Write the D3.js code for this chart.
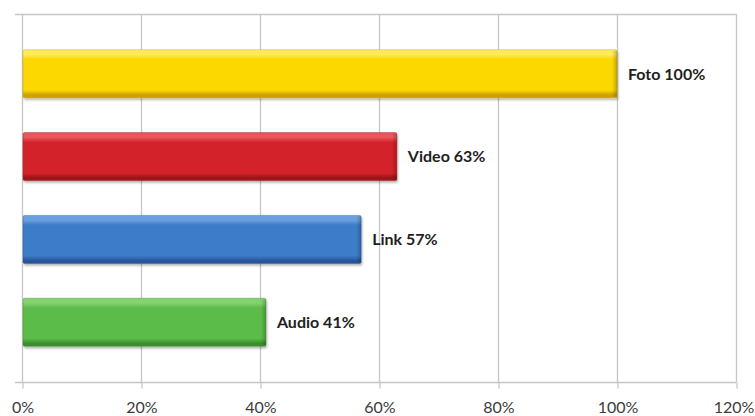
<!DOCTYPE html>
<html>
<head>
<meta charset="utf-8">
<script src="https://cdn.jsdelivr.net/npm/d3@7"></script>
<style>
  html, body { margin: 0; padding: 0; background: #ffffff; }
  svg { display: block; }
</style>
</head>
<body>
<svg id="chart" width="755" height="416"></svg>
<script>
// Share of posts by content type
const categories = ["Foto", "Video", "Link", "Audio"];
const values = [100, 63, 57, 41];
const tickValues = [0, 20, 40, 60, 80, 100, 120];
const tickLabels = ["0%", "20%", "40%", "60%", "80%", "100%", "120%"];

// Bar shades: highlight, main, shadow
const barColors = [
  { light: "#FFEB5C", main: "#FCD700", dark: "#C9A200" },
  { light: "#E9585C", main: "#D4242B", dark: "#9A161B" },
  { light: "#6AA0DE", main: "#3D7BC8", dark: "#28579A" },
  { light: "#85D270", main: "#5BBC49", dark: "#3A8E2F" }
];

const svg = d3.select("#chart");
const plot = { left: 22, right: 736, top: 14, bottom: 382 };

const x = d3.scaleLinear().domain([0, 120]).range([plot.left, plot.right]);
const y = d3.scaleBand()
  .domain(categories)
  .range([plot.top, plot.bottom])
  .paddingInner(0.42)
  .paddingOuter(0.432);

const gridColor = "#c6c6c6";

// Gradients for the bevelled bars
const defs = svg.append("defs");
barColors.forEach((c, i) => {
  const g = defs.append("linearGradient")
    .attr("id", "bar-grad-" + i)
    .attr("x1", 0).attr("y1", 0).attr("x2", 0).attr("y2", 1);
  [[0, c.light], [0.1, c.light], [0.2, c.main], [0.84, c.main], [0.94, c.dark], [1, c.dark]]
    .forEach(([o, col]) => g.append("stop").attr("offset", o).attr("stop-color", col));
});
const endGrad = defs.append("linearGradient")
  .attr("id", "bar-end").attr("x1", 0).attr("y1", 0).attr("x2", 1).attr("y2", 0);
endGrad.append("stop").attr("offset", 0).attr("stop-color", "#000").attr("stop-opacity", 0);
endGrad.append("stop").attr("offset", 1).attr("stop-color", "#000").attr("stop-opacity", 0.22);

const shadow = defs.append("filter").attr("id", "bar-shadow")
  .attr("x", "-5%").attr("y", "-20%").attr("width", "110%").attr("height", "160%");
shadow.append("feGaussianBlur").attr("in", "SourceAlpha").attr("stdDeviation", 1.2);
shadow.append("feOffset").attr("dx", 0.5).attr("dy", 1.5).attr("result", "sh");
shadow.append("feComponentTransfer").attr("in", "sh").attr("result", "sh2")
  .append("feFuncA").attr("type", "linear").attr("slope", 0.3);
const merge = shadow.append("feMerge");
merge.append("feMergeNode").attr("in", "sh2");
merge.append("feMergeNode").attr("in", "SourceGraphic");

// Vertical gridlines
svg.append("g")
  .selectAll("line")
  .data(tickValues)
  .join("line")
  .attr("x1", d => x(d) + 0.5).attr("x2", d => x(d) + 0.5)
  .attr("y1", plot.top).attr("y2", plot.bottom)
  .attr("stroke", gridColor).attr("stroke-width", 1.3);

// Top border
svg.append("line")
  .attr("x1", plot.left - 7).attr("x2", x(120) + 0.5)
  .attr("y1", plot.top + 0.5).attr("y2", plot.top + 0.5)
  .attr("stroke", gridColor).attr("stroke-width", 1.3);

// Bottom axis
const xAxis = d3.axisBottom(x)
  .tickValues(tickValues)
  .tickFormat((d, i) => tickLabels[i])
  .tickSize(6)
  .tickSizeOuter(0)
  .tickPadding(13);
const axisG = svg.append("g")
  .attr("transform", `translate(0.5,${plot.bottom + 0.5})`)
  .call(xAxis);
axisG.select(".domain").remove();
axisG.selectAll(".tick line").attr("stroke", gridColor).attr("stroke-width", 1.3);
axisG.selectAll(".tick text")
  .attr("fill", "#3c3c3c")
  .attr("font-family", "Lato, 'Open Sans', sans-serif")
  .attr("font-size", 16)
  .attr("dx", (d, i) => (i === tickValues.length - 1 ? -3 : 0));
svg.append("line")
  .attr("x1", plot.left - 7).attr("x2", x(120) + 0.5)
  .attr("y1", plot.bottom + 0.5).attr("y2", plot.bottom + 0.5)
  .attr("stroke", gridColor).attr("stroke-width", 1.3);

// Bars
const bars = svg.append("g")
  .selectAll("g")
  .data(categories.map((c, i) => ({ c, v: values[i], i })))
  .join("g");

bars.append("rect")
  .attr("x", x(0) + 1)
  .attr("y", d => y(d.c))
  .attr("width", d => x(d.v) - x(0) - 1)
  .attr("height", y.bandwidth())
  .attr("rx", 1.5)
  .attr("fill", d => `url(#bar-grad-${d.i})`)
  .attr("stroke", d => barColors[d.i].dark)
  .attr("stroke-opacity", 0.5)
  .attr("stroke-width", 0.8)
  .attr("filter", "url(#bar-shadow)");

// Darker bevel at the bar end
bars.append("rect")
  .attr("x", d => x(d.v) - 5)
  .attr("y", d => y(d.c) + 1)
  .attr("width", 5)
  .attr("height", y.bandwidth() - 2)
  .attr("fill", "url(#bar-end)");

// Value labels
bars.append("text")
  .attr("x", d => x(d.v) + 11)
  .attr("y", d => y(d.c) + y.bandwidth() / 2)
  .attr("dy", "0.36em")
  .attr("fill", "#1e1e1e")
  .attr("font-family", "Lato, 'Open Sans', sans-serif")
  .attr("font-weight", "bold")
  .attr("font-size", 16)
  .text(d => `${d.c} ${d.v}%`);
</script>
</body>
</html>
